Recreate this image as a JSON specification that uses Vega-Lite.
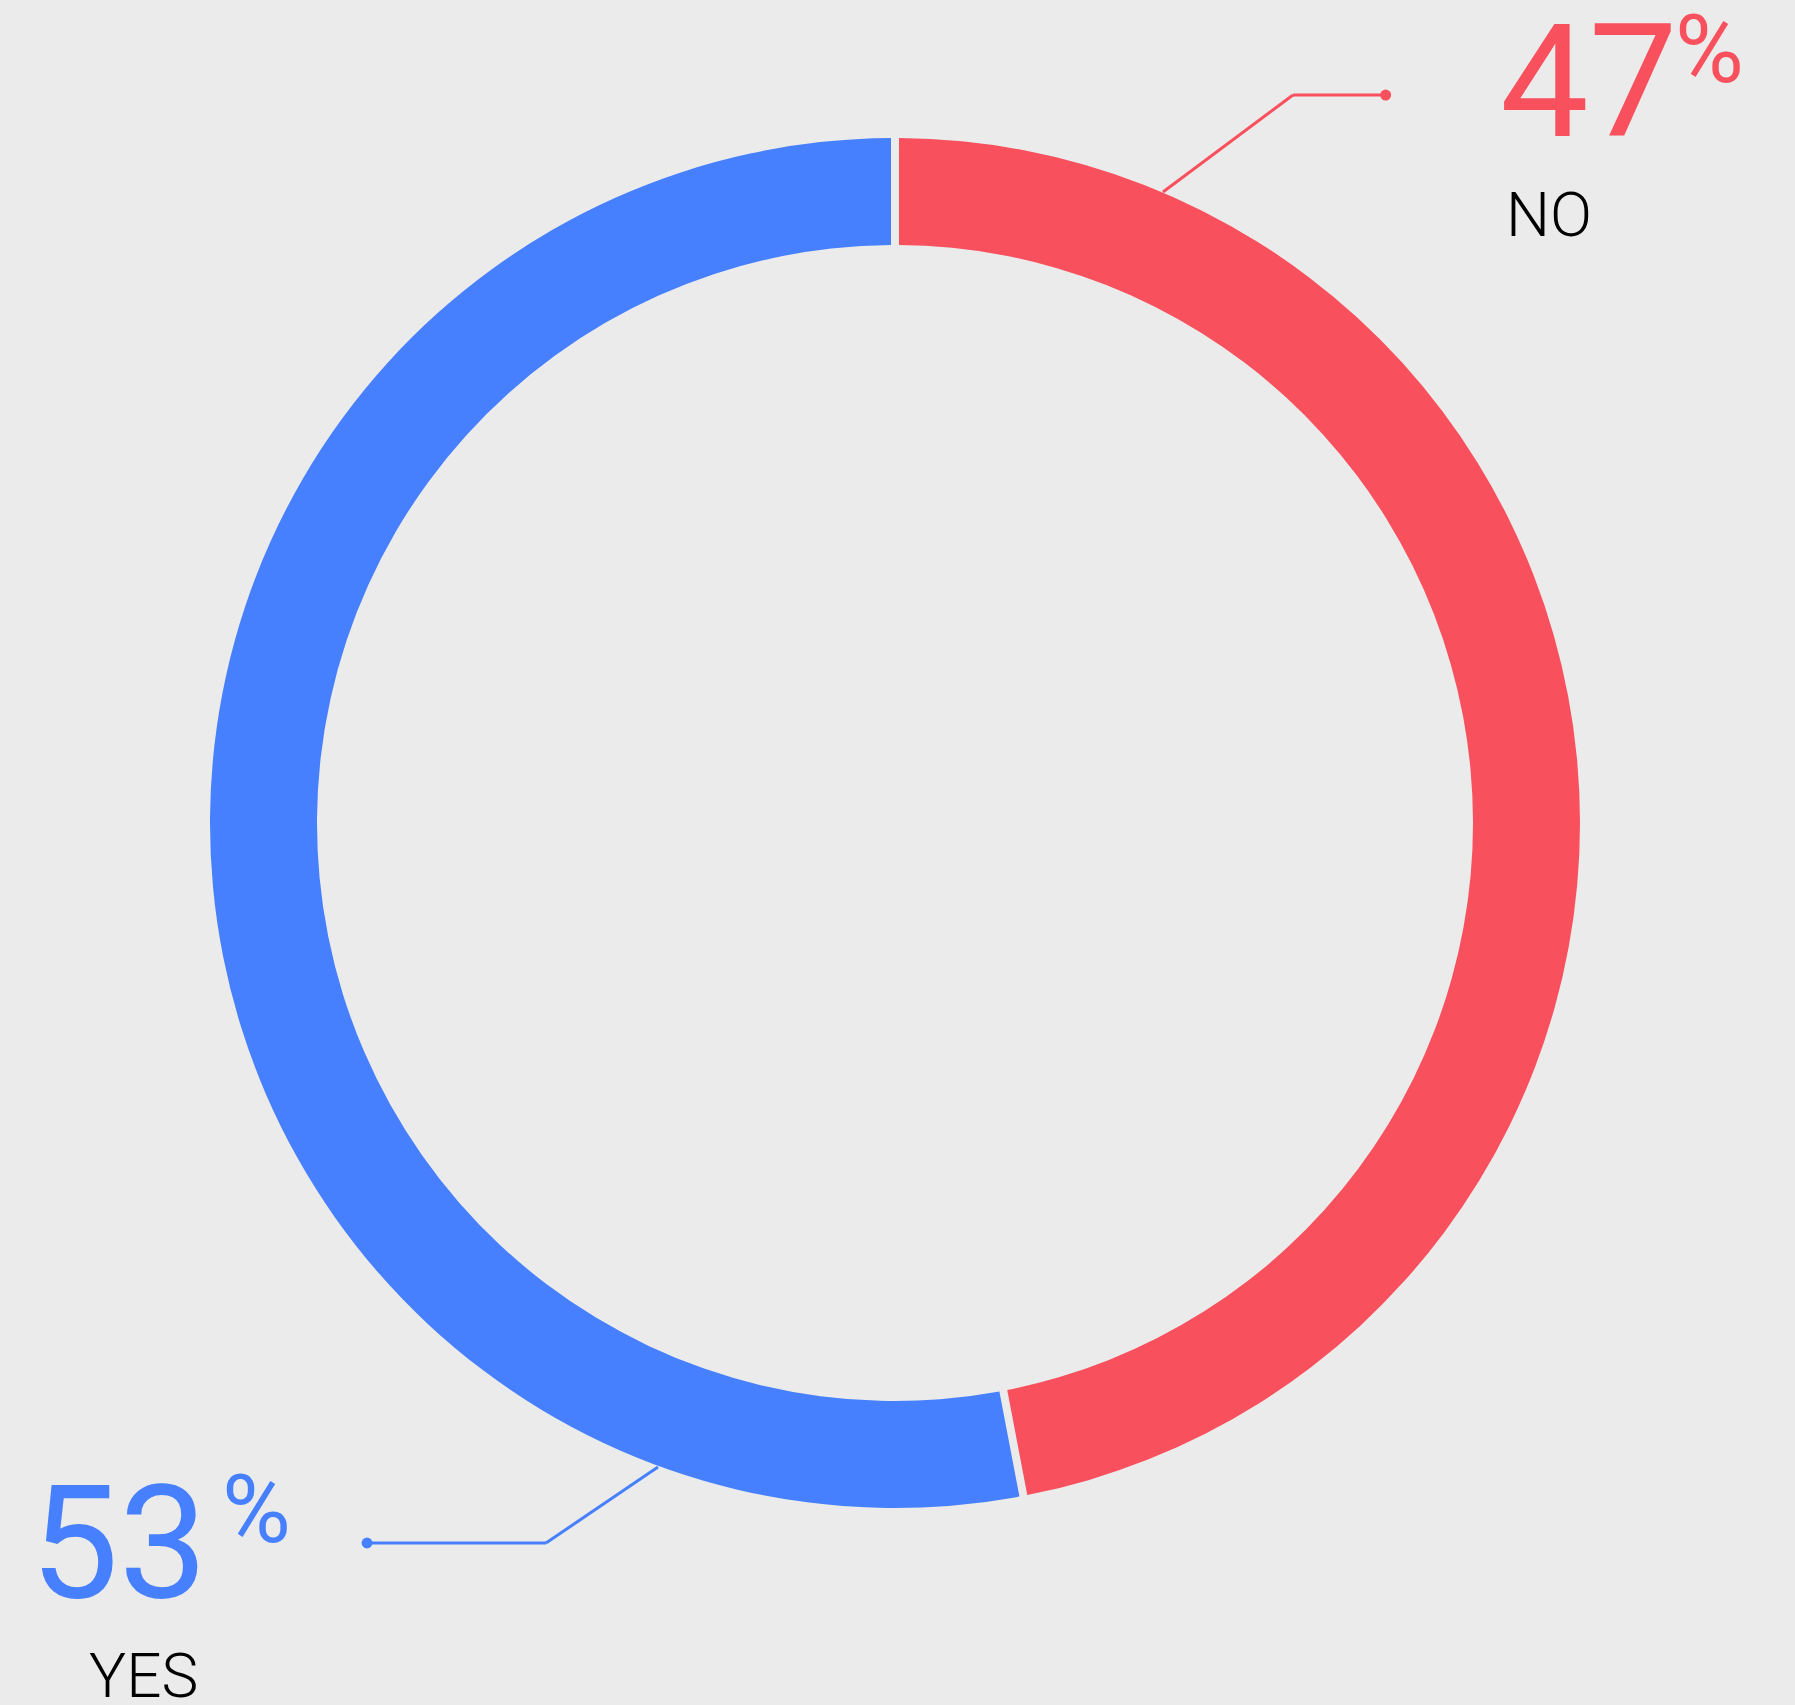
{
  "$schema": "https://vega.github.io/schema/vega-lite/v6.json",
  "autosize": {"type": "none"},
  "width": 1795,
  "height": 1705,
  "padding": 0,
  "background": "#EBEBEB",
  "config": {"view": {"stroke": null}},
  "data": {"values": [
    {"answer": "NO", "share": 47},
    {"answer": "YES", "share": 53}
  ]},
  "layer": [
    {
      "transform": [{"filter": "datum.answer === 'NO'"}],
      "mark": {"type": "rule", "strokeWidth": 3},
      "encoding": {
        "x": {"datum": 0.3912, "type": "quantitative", "scale": {"domain": [-1.3066, 1.3139], "zero": false, "nice": false}, "axis": null},
        "y": {"datum": 0.9212, "type": "quantitative", "scale": {"domain": [-1.2876, 1.2015], "zero": false, "nice": false}, "axis": null},
        "x2": {"datum": 0.581},
        "y2": {"datum": 1.0628},
        "color": {"field": "answer", "type": "nominal", "scale": {"domain": ["NO", "YES"], "range": ["#F9505E", "#4780FE"]}, "legend": null}
      }
    },
    {
      "transform": [{"filter": "datum.answer === 'NO'"}],
      "mark": {"type": "rule", "strokeWidth": 3},
      "encoding": {
        "x": {"datum": 0.581, "type": "quantitative", "scale": {"domain": [-1.3066, 1.3139], "zero": false, "nice": false}, "axis": null},
        "y": {"datum": 1.0628, "type": "quantitative", "scale": {"domain": [-1.2876, 1.2015], "zero": false, "nice": false}, "axis": null},
        "x2": {"datum": 0.7163},
        "y2": {"datum": 1.0628},
        "color": {"field": "answer", "type": "nominal", "legend": null}
      }
    },
    {
      "transform": [{"filter": "datum.answer === 'NO'"}],
      "mark": {"type": "point", "filled": true, "size": 120, "opacity": 1},
      "encoding": {
        "x": {"datum": 0.7163, "type": "quantitative", "scale": {"domain": [-1.3066, 1.3139], "zero": false, "nice": false}, "axis": null},
        "y": {"datum": 1.0628, "type": "quantitative", "scale": {"domain": [-1.2876, 1.2015], "zero": false, "nice": false}, "axis": null},
        "color": {"field": "answer", "type": "nominal", "legend": null}
      }
    },
    {
      "transform": [{"filter": "datum.answer === 'YES'"}],
      "mark": {"type": "rule", "strokeWidth": 3},
      "encoding": {
        "x": {"datum": -0.346, "type": "quantitative", "scale": {"domain": [-1.3066, 1.3139], "zero": false, "nice": false}, "axis": null},
        "y": {"datum": -0.9401, "type": "quantitative", "scale": {"domain": [-1.2876, 1.2015], "zero": false, "nice": false}, "axis": null},
        "x2": {"datum": -0.5095},
        "y2": {"datum": -1.0511},
        "color": {"field": "answer", "type": "nominal", "legend": null}
      }
    },
    {
      "transform": [{"filter": "datum.answer === 'YES'"}],
      "mark": {"type": "rule", "strokeWidth": 3},
      "encoding": {
        "x": {"datum": -0.5095, "type": "quantitative", "scale": {"domain": [-1.3066, 1.3139], "zero": false, "nice": false}, "axis": null},
        "y": {"datum": -1.0511, "type": "quantitative", "scale": {"domain": [-1.2876, 1.2015], "zero": false, "nice": false}, "axis": null},
        "x2": {"datum": -0.7708},
        "y2": {"datum": -1.0511},
        "color": {"field": "answer", "type": "nominal", "legend": null}
      }
    },
    {
      "transform": [{"filter": "datum.answer === 'YES'"}],
      "mark": {"type": "point", "filled": true, "size": 120, "opacity": 1},
      "encoding": {
        "x": {"datum": -0.7708, "type": "quantitative", "scale": {"domain": [-1.3066, 1.3139], "zero": false, "nice": false}, "axis": null},
        "y": {"datum": -1.0511, "type": "quantitative", "scale": {"domain": [-1.2876, 1.2015], "zero": false, "nice": false}, "axis": null},
        "color": {"field": "answer", "type": "nominal", "legend": null}
      }
    },
    {
      "mark": {"type": "arc", "innerRadius": 578, "outerRadius": 685, "padAngle": 0.0089},
      "encoding": {
        "x": {"datum": 0, "type": "quantitative", "scale": {"domain": [-1.3066, 1.3139], "zero": false, "nice": false}, "axis": null},
        "y": {"datum": 0, "type": "quantitative", "scale": {"domain": [-1.2876, 1.2015], "zero": false, "nice": false}, "axis": null},
        "theta": {"field": "share", "type": "quantitative", "stack": true},
        "color": {"field": "answer", "type": "nominal", "legend": null}
      }
    },
    {
      "transform": [{"filter": "datum.answer === 'NO'"}],
      "mark": {"type": "text", "align": "left", "baseline": "alphabetic", "font": "Roboto", "fontSize": 158, "fontWeight": 400},
      "encoding": {
        "x": {"datum": 0.8832, "type": "quantitative", "scale": {"domain": [-1.3066, 1.3139], "zero": false, "nice": false}, "axis": null},
        "y": {"datum": 1.0029, "type": "quantitative", "scale": {"domain": [-1.2876, 1.2015], "zero": false, "nice": false}, "axis": null},
        "text": {"field": "share", "type": "quantitative"},
        "color": {"field": "answer", "type": "nominal", "legend": null}
      }
    },
    {
      "transform": [{"filter": "datum.answer === 'NO'"}],
      "mark": {"type": "text", "text": "%", "align": "left", "baseline": "alphabetic", "font": "Roboto", "fontSize": 94, "fontWeight": 400},
      "encoding": {
        "x": {"datum": 1.1387, "type": "quantitative", "scale": {"domain": [-1.3066, 1.3139], "zero": false, "nice": false}, "axis": null},
        "y": {"datum": 1.0818, "type": "quantitative", "scale": {"domain": [-1.2876, 1.2015], "zero": false, "nice": false}, "axis": null},
        "color": {"field": "answer", "type": "nominal", "legend": null}
      }
    },
    {
      "transform": [{"filter": "datum.answer === 'NO'"}],
      "mark": {"type": "text", "align": "left", "baseline": "alphabetic", "font": "Roboto", "fontSize": 62, "fontWeight": 300, "color": "#000000"},
      "encoding": {
        "x": {"datum": 0.892, "type": "quantitative", "scale": {"domain": [-1.3066, 1.3139], "zero": false, "nice": false}, "axis": null},
        "y": {"datum": 0.8569, "type": "quantitative", "scale": {"domain": [-1.2876, 1.2015], "zero": false, "nice": false}, "axis": null},
        "text": {"field": "answer", "type": "nominal"}
      }
    },
    {
      "transform": [{"filter": "datum.answer === 'YES'"}],
      "mark": {"type": "text", "align": "left", "baseline": "alphabetic", "font": "Roboto", "fontSize": 158, "fontWeight": 400},
      "encoding": {
        "x": {"datum": -1.2628, "type": "quantitative", "scale": {"domain": [-1.3066, 1.3139], "zero": false, "nice": false}, "axis": null},
        "y": {"datum": -1.13, "type": "quantitative", "scale": {"domain": [-1.2876, 1.2015], "zero": false, "nice": false}, "axis": null},
        "text": {"field": "share", "type": "quantitative"},
        "color": {"field": "answer", "type": "nominal", "legend": null}
      }
    },
    {
      "transform": [{"filter": "datum.answer === 'YES'"}],
      "mark": {"type": "text", "text": "%", "align": "left", "baseline": "alphabetic", "font": "Roboto", "fontSize": 94, "fontWeight": 400},
      "encoding": {
        "x": {"datum": -0.9825, "type": "quantitative", "scale": {"domain": [-1.3066, 1.3139], "zero": false, "nice": false}, "axis": null},
        "y": {"datum": -1.0496, "type": "quantitative", "scale": {"domain": [-1.2876, 1.2015], "zero": false, "nice": false}, "axis": null},
        "color": {"field": "answer", "type": "nominal", "legend": null}
      }
    },
    {
      "transform": [{"filter": "datum.answer === 'YES'"}],
      "mark": {"type": "text", "align": "left", "baseline": "alphabetic", "font": "Roboto", "fontSize": 62, "fontWeight": 300, "color": "#000000"},
      "encoding": {
        "x": {"datum": -1.1766, "type": "quantitative", "scale": {"domain": [-1.3066, 1.3139], "zero": false, "nice": false}, "axis": null},
        "y": {"datum": -1.2759, "type": "quantitative", "scale": {"domain": [-1.2876, 1.2015], "zero": false, "nice": false}, "axis": null},
        "text": {"field": "answer", "type": "nominal"}
      }
    }
  ]
}
